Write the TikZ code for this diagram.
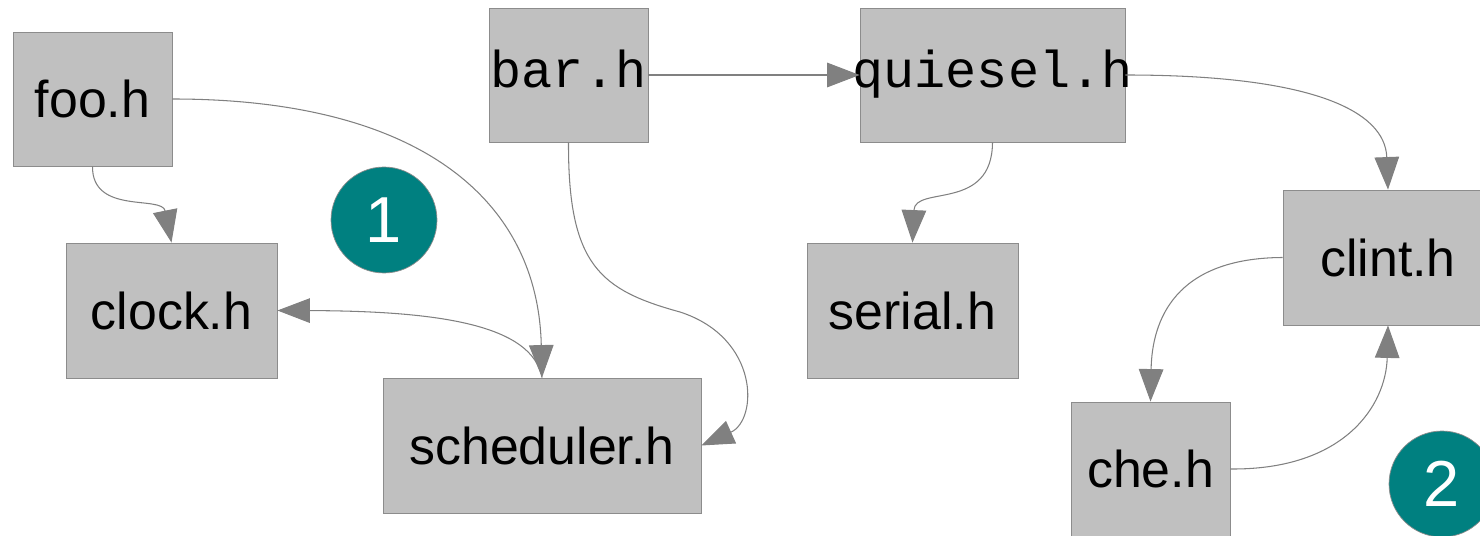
\documentclass[tikz,border=0pt]{standalone}
\usepackage{fontspec}
\setmainfont{Liberation Sans}
\newfontfamily\monofnt{Liberation Mono}
\usetikzlibrary{arrows.meta}
\definecolor{boxfill}{RGB}{192,192,192}
\definecolor{boxline}{RGB}{140,140,140}
\definecolor{edgecol}{RGB}{128,128,128}
\definecolor{tealc}{RGB}{0,128,128}
\tikzset{
  filebox/.style={draw=boxline, line width=0.5pt, fill=boxfill, inner sep=0pt,
    text height=21.5pt, text depth=0pt, font=\fontsize{29.5}{34}\selectfont},
  monobox/.style={filebox, text height=14.5pt, text depth=0pt,
    font=\monofnt\fontsize{29.5}{34}\selectfont},
  badge/.style={circle, draw=boxline, line width=0.4pt, fill=tealc, text=white,
    minimum size=2.12cm, inner sep=0pt, text height=26pt, text depth=0pt,
    font=\fontsize{37}{40}\selectfont},
  dep/.style={draw=edgecol, line width=0.6pt,
    -{Triangle[length=18.5pt, width=14pt, fill=edgecol]}},
}
\begin{document}
\begin{tikzpicture}[x=0.02cm, y=-0.02cm]
\useasboundingbox (0,0) rectangle (1480,536);
\clip (0,0) rectangle (1480,536);
% boxes
\node[filebox, minimum width=3.18cm, minimum height=2.68cm] (foo) at (92.5,99) {\makebox[0pt]{foo.h}};
\node[monobox, minimum width=3.18cm, minimum height=2.68cm] (bar) at (568.5,75) {\makebox[0pt]{bar.h}};
\node[monobox, minimum width=5.30cm, minimum height=2.68cm] (quiesel) at (992.5,75) {\makebox[0pt]{quiesel.h}};
\node[filebox, minimum width=4.22cm, minimum height=2.70cm] (clock) at (171.5,310.5) {\makebox[0pt]{clock.h}};
\node[filebox, minimum width=6.36cm, minimum height=2.70cm] (sched) at (542,445.5) {\makebox[0pt]{scheduler.h}};
\node[filebox, minimum width=4.22cm, minimum height=2.70cm] (serial) at (912.5,310.5) {\makebox[0pt]{serial.h}};
\node[filebox, minimum width=4.20cm, minimum height=2.70cm] (clint) at (1388,257.5) {\makebox[0pt]{clint.h}};
\node[filebox, minimum width=3.18cm, minimum height=2.68cm] (che) at (1150.5,469) {\makebox[0pt]{che.h}};
% badges
\node[badge] (b1) at (384,220) {1};
\node[badge] (b2) at (1442,484) {2};
% connectors
\draw[dep] (foo.south) .. controls (92,215) and (162,195) .. (clock.north);
\draw[dep] (foo.east) .. controls (420,99) and (538,200) .. (sched.north);
\draw[dep] (bar.east) -- (quiesel.west);
\coordinate (bmid) at (680,312);
\draw[dep] (bar.south) .. controls (568,265) and (600,290) .. (bmid)
  .. controls (760,338) and (758,420) .. (sched.east);
\draw[dep] (sched.north) .. controls (532,325) and (440,311) .. (clock.east);
\draw[dep] (quiesel.south) .. controls (992,212) and (915,185) .. (serial.north);
\draw[dep] (quiesel.east) .. controls (1310,75) and (1385,110) .. (clint.north);
\draw[dep] (clint.west) .. controls (1175,258) and (1152,320) .. (che.north);
\draw[dep] (che.east) .. controls (1345,470) and (1386,405) .. (clint.south);
\end{tikzpicture}
\end{document}
